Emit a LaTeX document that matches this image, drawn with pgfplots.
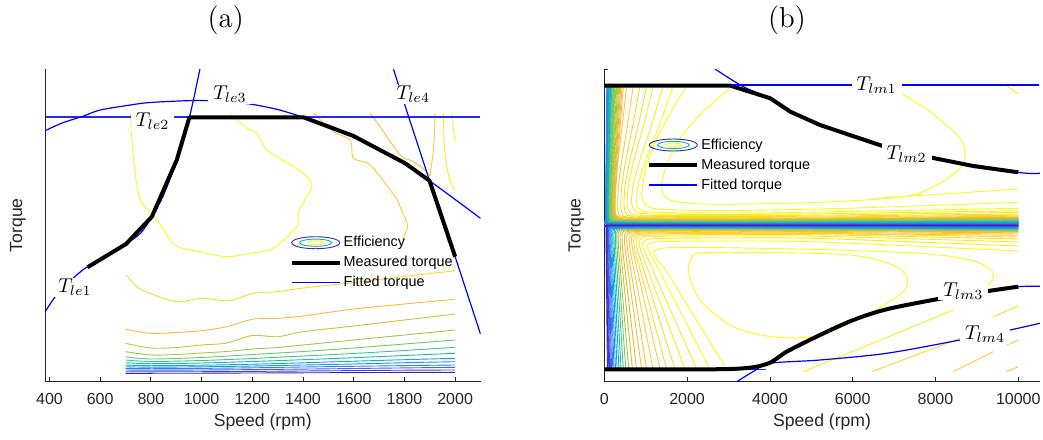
\documentclass[border=0pt]{standalone}
\usepackage{fontspec}
\newfontfamily\arial{Liberation Sans}
\usepackage{pgfplots}
\pgfplotsset{compat=1.18}
\definecolor{c0}{rgb}{0.2422,0.1504,0.6603}
\definecolor{c1}{rgb}{0.2780,0.2560,0.8990}
\definecolor{c2}{rgb}{0.2500,0.3900,0.9900}
\definecolor{c3}{rgb}{0.1600,0.5000,0.9700}
\definecolor{c4}{rgb}{0.1000,0.5900,0.8900}
\definecolor{c5}{rgb}{0.0500,0.6700,0.8200}
\definecolor{c6}{rgb}{0.1000,0.7300,0.7100}
\definecolor{c7}{rgb}{0.2400,0.7700,0.5800}
\definecolor{c8}{rgb}{0.4300,0.7900,0.4200}
\definecolor{c9}{rgb}{0.6300,0.7800,0.2700}
\definecolor{c10}{rgb}{0.8300,0.7500,0.2100}
\definecolor{c11}{rgb}{0.9800,0.7300,0.2400}
\definecolor{c12}{rgb}{0.9900,0.7900,0.2200}
\definecolor{c13}{rgb}{0.9700,0.8600,0.1700}
\definecolor{c14}{rgb}{0.9600,0.9300,0.1200}
\definecolor{c15}{rgb}{0.9769,0.9839,0.0805}
\definecolor{axgray}{rgb}{0.15,0.15,0.15}
\definecolor{fitblue}{rgb}{0,0,1}
\definecolor{fitblueh}{rgb}{0.15,0.15,1}
\tikzset{lab/.style={fill=white, inner xsep=2.5pt, inner ysep=0.5pt, font=\fontsize{10}{12}\selectfont}}
\pgfplotsset{
  base/.style={
    scale only axis, width=217.75pt, height=155.85pt,
    axis x line*=bottom, axis y line*=left,
    axis line style={axgray, line width=0.4pt, -},
    tick align=inside, major tick length=2pt,
    tick style={axgray, line width=0.4pt},
    ticklabel style={font=\arial\fontsize{8}{9.6}\selectfont, text=axgray},
    /pgf/number format/assume math mode=true,
    /pgf/number format/1000 sep={},
    scaled x ticks=false,
    xticklabel style={anchor=center, yshift=-9pt},
    label style={font=\arial\fontsize{8.8}{10}\selectfont, text=axgray},
    xlabel style={at={(axis description cs:0.5,-0.1315)}, anchor=center},
    legend image code/.code={\draw[#1] (0pt,0pt) -- (24pt,0pt);},
    legend cell align=left,
    legend style={anchor=north west, draw=none, fill=none, inner sep=0pt, outer sep=0pt,
      font=\arial\fontsize{7.2}{8}\selectfont, row sep=1pt,
      nodes={inner sep=1pt, text height=5.5pt, text depth=1.5pt}},
  },
  cl/.style={line width=0.45pt, smooth, forget plot},
  fitl/.style={color=fitblue, line width=0.6pt, forget plot},
  fith/.style={color=fitblueh, line width=0.8pt, forget plot},
  meas/.style={color=black, line width=2pt, forget plot, line join=round},
  effimg/.style={legend image code/.code={
      \draw[c0, line width=0.45pt] (12pt,0pt) ellipse (12pt and 3pt);
      \draw[c5, line width=0.45pt] (12pt,0pt) ellipse (8pt and 1.8pt);
      \draw[c15, line width=0.45pt] (12pt,0pt) ellipse (3.8pt and 1pt);}},
}
\begin{document}
\begin{tikzpicture}
\path[use as bounding box] (0,0) rectangle (521.5pt,219.5pt);
\node[font=\fontsize{14.4}{17}\selectfont] at (112.85pt,209.15pt) {(a)};
\node[font=\fontsize{14.4}{17}\selectfont] at (393.5pt,209.15pt) {(b)};
% ---------------- (a) ----------------
\begin{axis}[base, at={(22.5pt,29pt)}, anchor=south west,
  xmin=382.4, xmax=2100, ymin=0, ymax=311.7,
  xtick={400,600,...,2000}, ytick=\empty,
  xlabel={Speed (rpm)}, ylabel={Torque},
  ylabel style={at={(axis description cs:-0.062,0.5)}, anchor=center},
  legend style={at={(axis description cs:0.5619,0.4725)}}]
\addlegendimage{effimg}\addlegendentry{Efficiency}
\addlegendimage{color=black, line width=2pt}\addlegendentry{Measured torque}
\addlegendimage{color=fitblue, line width=0.7pt}\addlegendentry{Fitted torque}
% efficiency contours
\addplot[cl,c11] coordinates {(700,51.7) (800,47.7) (900,48.5) (1000,50.3) (1100,54.3) (1200,61.7) (1300,62.7) (1400,65) (1600,72) (1800,77) (2000,81.7)};
\addplot[cl,c10] coordinates {(700,37.7) (800,33) (900,33.5) (1000,36) (1100,38) (1200,45.5) (1300,44.3) (1400,49.3) (1600,55) (1800,61) (2000,67)};
\addplot[cl,c9] coordinates {(700,29.3) (800,26) (900,26.5) (1000,28) (1100,29.5) (1200,32) (1300,33.5) (1400,36) (1600,41) (1800,46) (2000,51)};
\addplot[cl,c8] coordinates {(700,24.3) (800,22) (1000,23.5) (1200,26.5) (1400,29.5) (1600,33) (1800,37) (2000,41)};
\addplot[cl,c7] coordinates {(700,21) (800,19.5) (1000,20.5) (1200,22.5) (1400,25) (1600,27.5) (1800,30.5) (2000,33.7)};
\addplot[cl,c6] coordinates {(700,18.3) (800,17.3) (1000,18) (1200,19.5) (1400,21.3) (1600,23.3) (1800,25.5) (2000,27.7)};
\addplot[cl,c5] coordinates {(700,16) (800,15.3) (1000,15.8) (1200,16.8) (1400,18.2) (1600,19.8) (1800,21.3) (2000,22.7)};
\addplot[cl,c4] coordinates {(700,14.3) (800,13.8) (1000,14.2) (1200,15) (1400,16) (1600,17) (1800,18.3) (2000,19.3)};
\addplot[cl,c3] coordinates {(700,12.7) (800,12.3) (1000,12.6) (1200,13.2) (1400,14) (1600,14.7) (1800,15.4) (2000,16)};
\addplot[cl,c2] coordinates {(700,11) (800,10.8) (1000,11) (1200,11.4) (1400,11.9) (1600,12.5) (1800,13.1) (2000,13.7)};
\addplot[cl,c1] coordinates {(700,9.3) (800,9.2) (1000,9.3) (1200,9.6) (1400,10) (1600,10.4) (1800,10.8) (2000,11)};
\addplot[cl,c0] coordinates {(700,7.7) (800,7.7) (1000,7.8) (1200,8) (1400,8.2) (1600,8.4) (1800,8.6) (2000,8.7)};
\addplot[cl,c13] coordinates {(703,106) (745,94.3) (797,87.7) (902,79.3) (1001,82.7) (1106,80.3) (1205,87.7) (1297,89.3) (1402,93) (1599,98.3) (1783,104) (2000,110.3)};
\addplot[cl,c12] coordinates {(1442,267.7) (1520,249.3) (1586,241) (1599,222.7) (1665,216) (1763,184.3) (1783,174.3) (1812,156) (1803,147.7) (1792,141)};
\addplot[cl,c15] coordinates {(719,267.7) (732,221) (758,181) (824,161) (896,136) (994,129.3) (1100,124.3) (1205,128.3) (1283,132.7) (1376,154.3) (1382,169.3) (1435,194.3) (1415,204.3) (1362,214.3) (1257,231) (1218,247.7) (1179,252.7) (1113,267)};
\addplot[cl,c11] coordinates {(1665,267.7) (1704,254.3) (1783,226) (1836,219.3) (1888,209.3) (1901,205)};
\addplot[cl,c12] coordinates {(1921,267.7) (1918,245) (1913,228) (1901,206)};
\addplot[cl,c14] coordinates {(1954,267.7) (1956,241) (1961,225) (1967,214.3) (1980,200) (2000,191)};
\addplot[cl,c15] coordinates {(1987,267.7) (1993,252) (2000,239.3)};
% fitted torque
\addplot[fith] coordinates {(385,263.7) (1200,263.7) (2098,263.7)};
\addplot[fitl, smooth] coordinates {(383,69.3) (422,84) (470,97) (535,111.7) (620,124) (702,137) (760,148) (804,164.3) (850,186) (902,221) (952,263.7) (994,312.7)};
\addplot[fitl, smooth] coordinates {(383,250.3) (450,258) (535,265) (600,271) (719,276) (797,278.5) (942,280.3) (1034,280.3) (1113,279) (1198,276.7) (1300,271.5) (1402,263.7) (1500,255.5) (1599,245) (1700,232) (1803,217.7) (1899,200.3) (2000,181.5) (2100,162.7)};
\addplot[fitl] coordinates {(1757,311.7) (1810,269.3) (1899,200.3) (2000,124.3) (2100,47)};
% measured torque
\addplot[meas] coordinates {(550,113.7) (702,137) (804,164.3) (902,221) (952,263.7) (1402,263.7) (1599,245) (1803,217.7) (1899,200.3) (2000,124.3)};
\node[lab] at (axis cs:500.7,93.5) {$T_{le1}$};
\node[lab] at (axis cs:807,259.7) {$T_{le2}$};
\node[lab] at (axis cs:1112,286.8) {$T_{le3}$};
\node[lab] at (axis cs:1835,286.8) {$T_{le4}$};
\end{axis}
% ---------------- (b) ----------------
\begin{axis}[base, at={(302.15pt,29pt)}, anchor=south west,
  xmin=0, xmax=10520, ymin=-156, ymax=155.7,
  xtick={0,2000,...,10000}, ytick={-156,0,155.7}, yticklabels={},
  xlabel={Speed (rpm)}, ylabel={Torque},
  ylabel style={at={(axis description cs:-0.0643,0.5)}, anchor=center},
  legend style={at={(axis description cs:0.0987,0.786)}}]
\addlegendimage{effimg}\addlegendentry{Efficiency}
\addlegendimage{color=black, line width=2pt}\addlegendentry{Measured torque}
\addlegendimage{color=fitblue, line width=0.7pt}\addlegendentry{Fitted torque}
% upper half contours
\addplot[cl,c15] coordinates {(3109,139.3) (2700,125) (2311,110) (1828,86.7) (1507,60) (1386,40) (1466,28.3) (1749,23.3) (2715,20.7) (5210,22.7) (7222,28.3) (8029,40) (8592,56.7) (8712,70) (8592,86.7) (7867,113.3) (7184,131.7) (6950,139.3)};
\addplot[cl,c15] coordinates {(6500,26.5) (8000,30.5) (10000,36)};
\addplot[cl,c14] coordinates {(9720,139.3) (10000,131)};
\addplot[cl,c15] coordinates {(1990,139.3) (1600,112) (1250,85) (1024,60) (930,40) (910,28) (1000,20) (1266,16) (2000,14.8) (3109,14.5) (5210,16) (7500,19) (10000,22.7)};
\addplot[cl,c15] coordinates {(1667,139.3) (1330,100) (1000,65) (820,40) (770,25) (850,16) (1200,12.8) (3000,12) (5210,13) (10000,16.7)};
\addplot[cl,c14] coordinates {(1425,139.3) (1140,100) (860,65) (700,40) (660,23) (740,14.3) (1050,11.2) (3000,10.5) (5210,11.2) (10000,14.3)};
\addplot[cl,c14] coordinates {(1184,139.3) (950,100) (715,65) (585,40) (550,21) (620,12.8) (880,9.9) (3000,9.3) (5210,9.9) (10000,12.7)};
\addplot[cl,c13] coordinates {(1024,139.3) (820,100) (620,65) (505,40) (475,20) (535,11.6) (760,9) (3000,8.4) (5210,8.9) (10000,11)};
\addplot[cl,c13] coordinates {(862,139.3) (690,100) (520,65) (425,40) (400,19) (450,10.6) (640,8.1) (3000,7.6) (5210,8) (10000,9.8)};
\addplot[cl,c12] coordinates {(700,139.3) (560,100) (425,65) (345,40) (325,18) (365,9.7) (520,7.4) (3000,6.9) (5210,7.2) (10000,8.8)};
\addplot[cl,c12] coordinates {(541,139.3) (435,100) (330,65) (270,40) (255,17) (285,8.8) (405,6.8) (3000,6.3) (5210,6.5) (10000,7.9)};
\addplot[cl,c11] coordinates {(460,139.3) (368,90) (290,45) (262,15.7) (345,7.2) (736,5.9) (3000,5.7) (10000,7.7)};
\addplot[cl,c11] coordinates {(430,139.3) (344,90) (271,45) (245,15.5) (322,6.9) (688,5.6) (3000,5.45) (10000,7.35)};
\addplot[cl,c10] coordinates {(400,139.3) (320,90) (252,45) (228,15.2) (300,6.7) (640,5.4) (3000,5.2) (10000,7.0)};
\addplot[cl,c10] coordinates {(375,139.3) (300,90) (236,45) (214,15) (281,6.4) (600,5.1) (3000,4.95) (10000,6.65)};
\addplot[cl,c10] coordinates {(350,139.3) (280,90) (220,45) (200,14.7) (262,6.2) (560,4.9) (3000,4.7) (10000,6.3)};
\addplot[cl,c9] coordinates {(325,139.3) (260,90) (205,45) (185,14.5) (244,6) (520,4.7) (3000,4.5) (10000,6.05)};
\addplot[cl,c9] coordinates {(300,139.3) (240,90) (189,45) (171,14.3) (225,5.8) (480,4.5) (3000,4.3) (10000,5.8)};
\addplot[cl,c9] coordinates {(280,139.3) (224,90) (176,45) (160,14.1) (210,5.6) (448,4.3) (3000,4.1) (10000,5.55)};
\addplot[cl,c9] coordinates {(260,139.3) (208,90) (164,45) (148,13.9) (195,5.4) (416,4.1) (3000,3.9) (10000,5.3)};
\addplot[cl,c8] coordinates {(242,139.3) (194,90) (153,45) (138,13.7) (182,5.2) (387,3.9) (3000,3.7) (10000,5)};
\addplot[cl,c8] coordinates {(225,139.3) (180,90) (142,45) (128,13.5) (169,5) (360,3.7) (3000,3.5) (10000,4.7)};
\addplot[cl,c8] coordinates {(210,139.3) (168,90) (132,45) (120,13.3) (158,4.8) (336,3.5) (3000,3.3) (10000,4.45)};
\addplot[cl,c8] coordinates {(195,139.3) (156,90) (123,45) (111,13.1) (146,4.6) (312,3.3) (3000,3.1) (10000,4.2)};
\addplot[cl,c7] coordinates {(180,139.3) (144,90) (113,45) (103,12.9) (135,4.4) (288,3.1) (3000,2.9) (10000,3.9)};
\addplot[cl,c7] coordinates {(165,139.3) (132,90) (104,45) (94,12.7) (124,4.2) (264,2.9) (3000,2.7) (10000,3.6)};
\addplot[cl,c6] coordinates {(152,139.3) (122,90) (96,45) (87,12.5) (114,4) (243,2.7) (3000,2.5) (10000,3.35)};
\addplot[cl,c6] coordinates {(140,139.3) (112,90) (88,45) (80,12.3) (105,3.8) (224,2.5) (3000,2.3) (10000,3.1)};
\addplot[cl,c6] coordinates {(127,139.3) (102,90) (80,45) (72,12.1) (95,3.6) (203,2.3) (3000,2.1) (10000,2.85)};
\addplot[cl,c6] coordinates {(115,139.3) (92,90) (72,45) (66,11.9) (86,3.4) (184,2.1) (3000,1.9) (10000,2.6)};
\addplot[cl,c5] coordinates {(105,139.3) (84,90) (66,45) (60,11.7) (79,3.2) (168,1.9) (3000,1.7) (10000,2.3)};
\addplot[cl,c5] coordinates {(95,139.3) (76,90) (60,45) (54,11.5) (71,3) (152,1.7) (3000,1.5) (10000,2)};
\addplot[cl,c4] coordinates {(85,139.3) (68,90) (54,45) (48,11.3) (64,2.8) (136,1.5) (3000,1.3) (10000,1.75)};
\addplot[cl,c4] coordinates {(75,139.3) (60,90) (47,45) (43,11.1) (56,2.6) (120,1.3) (3000,1.1) (10000,1.5)};
\addplot[cl,c3] coordinates {(67,139.3) (54,90) (42,45) (38,10.9) (50,2.4) (107,1.1) (3000,0.95) (10000,1.3)};
\addplot[cl,c3] coordinates {(60,139.3) (48,90) (38,45) (34,10.8) (45,2.3) (96,1) (3000,0.8) (10000,1.1)};
% centre band
\addplot[cl,c2] coordinates {(45,0.6) (10000,0.75)};
\addplot[cl,c1] coordinates {(45,0.3) (10000,0.4)};
\addplot[cl,c0] coordinates {(45,0) (10000,0)};
\addplot[cl,c1] coordinates {(45,-0.15) (10000,-0.2)};
% lower half contours
\addplot[cl,c15] coordinates {(2150,-30) (2029,-45) (2312,-75) (3109,-101.7) (4164,-112.3) (5210,-110) (6418,-88.3) (7222,-66.7) (7319,-53.3) (7063,-41.7) (6256,-31.7) (5210,-28.5) (3109,-27.3) (2312,-28) (2150,-30)};
\addplot[cl,c15] coordinates {(2957,-144.3) (2448,-110) (1926,-75) (1481,-45) (1183,-28) (1450,-23) (2500,-22.5) (5210,-24.5) (7222,-27.5) (8300,-31) (8985,-36.7) (9348,-45) (9396,-53.3) (9275,-60)};
\addplot[cl,c15] coordinates {(2553,-144.3) (2128,-110) (1693,-75) (1320,-45) (1072,-25) (1040,-20) (1287,-16.8) (2144,-16.2) (3000,-16) (5210,-17) (10000,-26)};
\addplot[cl,c14] coordinates {(2231,-144.3) (1866,-110) (1492,-75) (1173,-45) (959,-25) (931,-17) (1151,-13.8) (1919,-13.2) (3000,-13) (5210,-13.5) (10000,-21)};
\addplot[cl,c14] coordinates {(1949,-144.3) (1641,-110) (1326,-75) (1057,-45) (877,-25) (851,-15) (1052,-11.8) (1754,-11.2) (3000,-11) (5210,-11.3) (10000,-17)};
\addplot[cl,c13] coordinates {(1707,-144.3) (1447,-110) (1181,-75) (954,-45) (802,-25) (778,-13.6) (963,-10.4) (1605,-9.8) (3000,-9.6) (5210,-9.8) (10000,-14)};
\addplot[cl,c13] coordinates {(1506,-144.3) (1286,-110) (1060,-75) (867,-45) (738,-25) (716,-12.5) (886,-9.3) (1476,-8.7) (3000,-8.5) (5210,-8.6) (10000,-12)};
\addplot[cl,c12] coordinates {(1345,-144.3) (1156,-110) (962,-75) (797,-45) (686,-25) (665,-11.6) (823,-8.4) (1372,-7.8) (3000,-7.6) (10000,-10.3)};
\addplot[cl,c12] coordinates {(1176,-144.3) (1017,-110) (855,-75) (716,-45) (623,-25) (605,-10.8) (748,-7.6) (1247,-7) (3000,-6.8) (10000,-9)};
\addplot[cl,c11] coordinates {(1023,-144.3) (891,-110) (756,-75) (640,-45) (563,-25) (546,-10) (675,-6.8) (1125,-6.2) (3000,-6) (10000,-7.8)};
\addplot[cl,c11] coordinates {(902,-144.3) (788,-110) (671,-75) (572,-45) (505,-25) (490,-9.4) (606,-6.2) (1010,-5.6) (3000,-5.4) (10000,-7)};
\addplot[cl,c10] coordinates {(780,-144.3) (684,-110) (585,-75) (501,-45) (445,-25) (431,-8.9) (534,-5.7) (889,-5.1) (3000,-4.9) (10000,-6.4)};
\addplot[cl,c10] coordinates {(680,-144.3) (598,-110) (514,-75) (442,-45) (394,-25) (383,-8.4) (473,-5.2) (789,-4.6) (3000,-4.4) (10000,-5.7)};
\addplot[cl,c9] coordinates {(590,-144.3) (521,-110) (449,-75) (389,-45) (348,-25) (338,-8) (418,-4.8) (696,-4.2) (3000,-4) (10000,-5.2)};
\addplot[cl,c8] coordinates {(520,-144.3) (460,-110) (399,-75) (347,-45) (312,-25) (303,-7.6) (374,-4.4) (624,-3.8) (3000,-3.6) (10000,-4.7)};
\addplot[cl,c7] coordinates {(460,-144.3) (407,-110) (353,-75) (307,-45) (276,-25) (268,-7.2) (331,-4) (552,-3.4) (3000,-3.2) (10000,-4.2)};
\addplot[cl,c6] coordinates {(405,-144.3) (358,-110) (311,-75) (270,-45) (243,-25) (236,-6.9) (292,-3.7) (486,-3.1) (3000,-2.9) (10000,-3.8)};
\addplot[cl,c5] coordinates {(355,-144.3) (314,-110) (272,-75) (237,-45) (213,-25) (207,-6.6) (256,-3.4) (426,-2.8) (3000,-2.6) (10000,-3.4)};
\addplot[cl,c5] coordinates {(310,-144.3) (274,-110) (238,-75) (207,-45) (186,-25) (180,-6.3) (223,-3.1) (372,-2.5) (3000,-2.3) (10000,-3)};
\addplot[cl,c4] coordinates {(270,-144.3) (239,-110) (207,-75) (180,-45) (162,-25) (157,-6) (194,-2.8) (324,-2.2) (3000,-2) (10000,-2.6)};
\addplot[cl,c3] coordinates {(235,-144.3) (208,-110) (180,-75) (157,-45) (141,-25) (137,-5.7) (169,-2.5) (282,-1.9) (3000,-1.7) (10000,-2.2)};
\addplot[cl,c3] coordinates {(205,-144.3) (181,-110) (157,-75) (137,-45) (123,-25) (119,-5.45) (148,-2.25) (246,-1.65) (3000,-1.45) (10000,-1.9)};
\addplot[cl,c2] coordinates {(175,-144.3) (155,-110) (134,-75) (117,-45) (105,-25) (102,-5.2) (126,-2) (210,-1.4) (3000,-1.2) (10000,-1.6)};
\addplot[cl,c2] coordinates {(150,-144.3) (133,-110) (115,-75) (100,-45) (90,-25) (87,-5) (108,-1.8) (180,-1.2) (3000,-1) (10000,-1.3)};
\addplot[cl,c1] coordinates {(128,-144.3) (113,-110) (98,-75) (85,-45) (77,-25) (74,-4.8) (92,-1.6) (154,-1) (3000,-0.8) (10000,-1.05)};
\addplot[cl,c1] coordinates {(108,-144.3) (96,-110) (83,-75) (72,-45) (65,-25) (63,-4.6) (78,-1.4) (130,-0.8) (3000,-0.6) (10000,-0.8)};
\addplot[cl,c0] coordinates {(90,-144.3) (80,-110) (69,-75) (60,-45) (54,-25) (52,-4.45) (65,-1.25) (108,-0.65) (3000,-0.45) (10000,-0.6)};
\addplot[cl,c0] coordinates {(75,-144.3) (66,-110) (58,-75) (50,-45) (45,-25) (44,-4.3) (54,-1.1) (90,-0.5) (3000,-0.3) (10000,-0.4)};
% diagonal contour pieces, lower right
\addplot[cl,c14] coordinates {(4807,-146.7) (8430,-85)};
\addplot[cl,c13] coordinates {(6459,-146.7) (8592,-113.3)};
\addplot[cl,c12] coordinates {(8430,-146.7) (9396,-126.7)};
\addplot[cl,c12] coordinates {(9718,-120) (10000,-115)};
\addplot[cl,c13] coordinates {(9396,-91.7) (10000,-81)};
\addplot[cl,c11] coordinates {(9718,-146.7) (10000,-141.7)};
% fitted torque
\addplot[fith] coordinates {(20,139.3) (3100,139.3)};
\addplot[fitl, smooth] coordinates {(2674,156) (3357,138.3) (4010,126.7) (4493,113.3) (5210,100) (6700,79.3) (7908,67.3) (10000,52.7) (10520,51.8)};
\addplot[fith] coordinates {(0,-144.3) (3900,-144.3)};
\addplot[fitl, smooth] coordinates {(3923,-139) (4405,-126.7) (5210,-110) (6015,-95) (6820,-84.3) (8068,-74) (9275,-66) (10000,-61.7) (10520,-61.3)};
\addplot[fitl, smooth] coordinates {(3200,-156.7) (3600,-146.5) (4002,-138.3) (5210,-135) (6820,-128.3) (8591,-115) (9800,-105) (10520,-98.3)};
% measured torque
\addplot[meas] coordinates {(0,139.3) (3050,139.3) (4010,126.7) (4493,113.3) (5210,100) (6700,79.3) (7908,67.3) (8913,59) (10000,52.7)};
\addplot[meas, smooth] coordinates {(0,-144.3) (3043,-144) (3923,-139) (4405,-126.7) (5210,-110) (6015,-95) (6820,-84.3) (8068,-74) (9275,-66) (10000,-61.7)};
\addplot[color=fitblue, line width=0.9pt, forget plot] coordinates {(3060,139.7) (6000,139.7) (10500,139.7)};
\node[lab] at (axis cs:6580,140.3) {$T_{lm1}$};
\node[lab] at (axis cs:7304,71.3) {$T_{lm2}$};
\node[lab] at (axis cs:8671,-65.8) {$T_{lm3}$};
\node[lab] at (axis cs:9196,-109.5) {$T_{lm4}$};
\end{axis}
\end{tikzpicture}
\end{document}
